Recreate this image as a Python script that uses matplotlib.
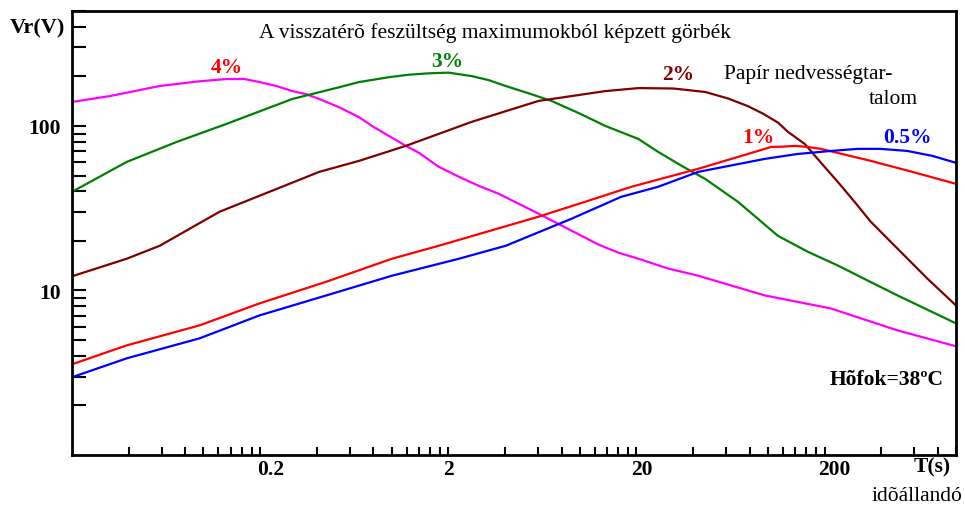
import matplotlib
matplotlib.use("Agg")
import matplotlib.pyplot as plt
import matplotlib.transforms as mtransforms
from matplotlib.ticker import FixedLocator, NullFormatter, FixedFormatter

plt.rcParams['font.family'] = ['Liberation Serif', 'DejaVu Serif']

# ---- data (time constant T in s, voltage Vr in V) ----
x_4 = [0.02, 0.0318, 0.0585, 0.0954, 0.1326, 0.165, 0.198, 0.244, 0.297, 0.352, 0.412,
       0.526, 0.672, 0.787, 0.969, 1.19, 1.40, 1.78, 2.28, 2.9, 3.71, 4.73, 6.04, 9.04,
       12.6, 16.0, 20.5, 29.5, 42.6, 96.4, 216, 489, 1000]
y_4 = [140, 152, 175, 187, 193, 193, 185, 175, 163, 156, 146,
       130, 113, 100, 86.9, 75.7, 68.6, 56.5, 49.1, 43.3, 38.7, 33.7, 29.3, 23.1,
       19.0, 17.0, 15.6, 13.6, 12.3, 9.33, 7.78, 5.72, 4.58]

x_3 = [0.02, 0.0391, 0.072, 0.1326, 0.297, 0.526, 0.672, 0.969, 1.236, 1.578, 2.01,
       2.668, 3.28, 4.04, 5.35, 7.08, 9.84, 13.7, 20.5, 26.1, 35.5, 46.4, 69.3, 88.5,
       113, 163, 235, 339, 489, 1000]
y_3 = [39.8, 60.5, 80, 103, 146, 172, 185, 198, 205, 209, 211,
       201, 190, 175, 158, 142, 120, 100, 83.4, 69.6, 56.5, 47.7, 34.6, 27.3,
       21.5, 17.2, 14.2, 11.5, 9.33, 6.31]

x_2 = [0.02, 0.0391, 0.0585, 0.1217, 0.198, 0.412, 0.672, 1.19, 2.668, 4.04, 6.04,
       13.7, 20.5, 31.4, 46.4, 61.4, 78.3, 94, 113, 128, 157, 196, 235, 289, 352, 432,
       532, 705, 1000]
y_2 = [12.2, 15.6, 18.7, 30.1, 37.6, 52.6, 61.4, 75.7, 106, 123, 142,
       163, 170, 169, 161, 147, 132, 119, 105, 92, 77.8, 58, 45.8, 34.6, 26.2, 20.7,
       16.3, 11.8, 8.11]

x_1 = [0.02, 0.0391, 0.0954, 0.198, 0.449, 1.005, 1.78, 6.04, 11.1, 18.8, 42.6,
       78.3, 88.5, 104, 120, 139, 163, 191, 352, 586, 1000]
y_1 = [3.56, 4.64, 6.14, 8.34, 11.3, 15.6, 18.7, 28.1, 35.1, 42.7, 54.9,
       67.6, 70.5, 74.6, 74.9, 75.7, 74.6, 72.6, 61.4, 52.6, 44.5]

x_05 = [0.02, 0.0391, 0.0954, 0.198, 0.449, 1.005, 2.28, 4.04, 9.04, 16.6, 26.1,
        42.6, 96.4, 144, 216, 300, 397, 552, 749, 1000]
y_05 = [2.97, 3.87, 5.12, 7.05, 9.33, 12.3, 15.6, 18.7, 27.3, 37.1, 42.7,
        52.6, 63.1, 67.6, 70.5, 72.6, 72.6, 70.5, 65.8, 59.7]

x_major = [0.2, 2, 20, 200]
x_major_labels = ['0.2', '2', '20', '200']
y_major = [10, 100]
y_major_labels = ['10', '100']

series = [
    (x_4, y_4, '#ff00ff'),
    (x_3, y_3, '#008000'),
    (x_2, y_2, '#800000'),
    (x_1, y_1, '#ff0000'),
    (x_05, y_05, '#0000ff'),
]

W, H = 965, 506
fig = plt.figure(figsize=(W / 100, H / 100), dpi=100)
ax = fig.add_axes([72 / W, 1 - 456 / H, (956 - 72) / W, (456 - 12) / H])

for xs, ys, c in series:
    ax.plot(xs, ys, color=c, lw=1.6, solid_joinstyle='round')

ax.set_xscale('log')
ax.set_yscale('log')
ax.set_xlim(0.02, 1000)
ax.set_ylim(1, 500)

# x ticks: decades starting at 0.2*10^n, minor ticks at k*start
xminor = []
for start in [0.02, 0.2, 2, 20, 200]:
    for k in range(2, 10):
        v = start * k
        if v <= 1000 and v not in x_major:
            xminor.append(v)
ax.xaxis.set_major_locator(FixedLocator(x_major))
ax.xaxis.set_major_formatter(FixedFormatter(x_major_labels))
ax.xaxis.set_minor_locator(FixedLocator(xminor))
ax.xaxis.set_minor_formatter(NullFormatter())

yminor = []
for dec in [1, 10, 100]:
    for k in range(2, 10):
        v = dec * k
        if v <= 500:
            yminor.append(v)
ax.yaxis.set_major_locator(FixedLocator(y_major))
ax.yaxis.set_major_formatter(FixedFormatter(y_major_labels))
ax.yaxis.set_minor_locator(FixedLocator(yminor))
ax.yaxis.set_minor_formatter(NullFormatter())

ax.tick_params(axis='x', which='both', direction='in', length=6, width=1.5, pad=3,
               labelsize=15.5)
ax.tick_params(axis='y', which='both', direction='in', length=10, width=1.5, pad=8,
               labelsize=15.5)
for lab in ax.get_xticklabels() + ax.get_yticklabels():
    lab.set_fontweight('bold')

# small horizontal shifts of x tick labels as in the original
shifts = [10, 0, 5, 10]
for lab, dx in zip(ax.get_xticklabels(), shifts):
    lab.set_transform(lab.get_transform() +
                      mtransforms.ScaledTranslation(dx / 100, 0, fig.dpi_scale_trans))

for s in ax.spines.values():
    s.set_linewidth(2)

FS = 15.5


def ftext(px, py, s, **kw):
    fig.text(px / W, 1 - py / H, s, **kw)


ftext(37, 28, 'Vr(V)', fontsize=16, fontweight='bold', ha='center', va='center')
ftext(495, 33, 'A visszatérõ feszültség maximumokból képzett görbék', fontsize=FS,
      ha='center', va='center')
ftext(808, 75, 'Papír nedvességtar-', fontsize=FS, ha='center', va='center')
ftext(918, 100, 'talom', fontsize=FS, ha='right', va='center')
ftext(227, 68, '4%', fontsize=FS, fontweight='bold', color='#ff0000', ha='center', va='center')
ftext(447, 62, '3%', fontsize=FS, fontweight='bold', color='#008000', ha='center', va='center')
ftext(678, 75, '2%', fontsize=FS, fontweight='bold', color='#800000', ha='center', va='center')
ftext(758, 138, '1%', fontsize=FS, fontweight='bold', color='#ff0000', ha='center', va='center')
ftext(907, 138, '0.5%', fontsize=FS, fontweight='bold', color='#0000ff', ha='center', va='center')
ftext(887, 380, 'Hõfok=38ºC', fontsize=FS, fontweight='bold', ha='center', va='center')
ftext(932, 467, 'T(s)', fontsize=FS, fontweight='bold', ha='center', va='center')
ftext(917, 497, 'idõállandó', fontsize=FS, ha='center', va='center')

fig.savefig('out.png', dpi=100)
